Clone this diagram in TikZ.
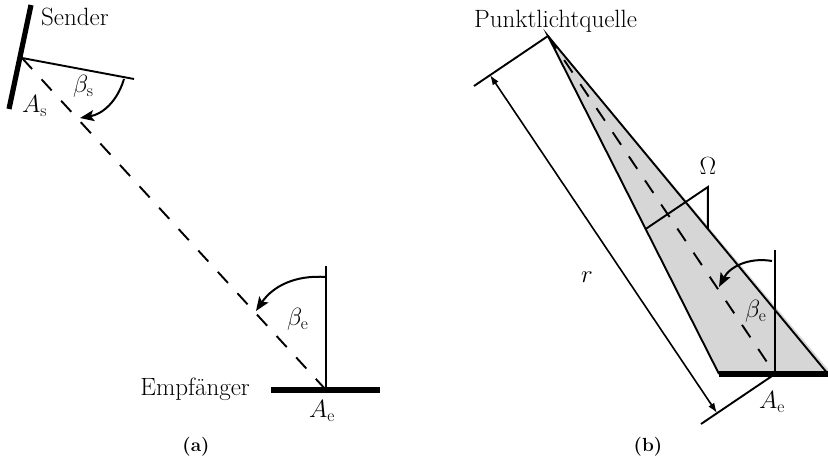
\documentclass[tikz,border=0pt]{standalone}
\usetikzlibrary{arrows.meta,calc}
\definecolor{conegray}{RGB}{214,214,214}
\begin{document}
\begin{tikzpicture}[x=1pt,y=-1pt,
  thinline/.style={line width=1.9pt},
  thickbar/.style={line width=5.2pt},
  axisline/.style={line width=1.9pt, dash pattern=on 15pt off 14pt},
  angarrow/.style={line width=2pt, -{Stealth[length=14pt,width=11pt,inset=3pt]}},
  dimarrow/.style={line width=1.6pt, {Latex[length=10pt,width=7pt]}-{Latex[length=10pt,width=7pt]}},
  lbl/.style={font=\fontsize{25}{30}\selectfont, inner sep=0pt},
  capt/.style={font=\fontsize{19}{23}\selectfont\bfseries, inner sep=0pt}]
\useasboundingbox (0,0) rectangle (828,462);

% ---------- panel (a) ----------
\coordinate (s1) at (9,109);
\coordinate (s2) at (31,5);
\coordinate (As) at (22,58);
\coordinate (n1) at (134,79);
\coordinate (Ae) at (326,390);
\coordinate (e1) at (271,390);
\coordinate (e2) at (380,390);
\coordinate (v1) at (326,266);
\coordinate (aS1) at (124,79);
\coordinate (aS2) at (80,118);
\coordinate (aE1) at (326,277);
\coordinate (aE2) at (256,311);

\draw[axisline] (As) -- (Ae);
\draw[thinline] (As) -- (n1);
\draw[thinline] (Ae) -- (v1);
\draw[thickbar] (s1) -- (s2);
\draw[thickbar] (e1) -- (e2);
\draw[angarrow] (aS1) to[bend left=32] (aS2);
\draw[angarrow] (aE1) to[bend right=30] (aE2);

\node[lbl, anchor=base west] (sender) at (41,26) {Sender};
\node[lbl, anchor=base west] (lAs) at (22,113) {$A_{\mathrm{s}}$};
\node[lbl, anchor=base west] (lbs) at (73,93) {$\beta_{\mathrm{s}}$};
\node[lbl, anchor=base east] (empf) at (250,396) {Empfänger};
\node[lbl, anchor=base west] (lAe) at (309,418) {$A_{\mathrm{e}}$};
\node[lbl, anchor=base west] (lbe) at (287,326) {$\beta_{\mathrm{e}}$};
\node[capt, anchor=base] (capa) at (196,452) {(a)};

% ---------- panel (b) ----------
\coordinate (S) at (548,36);
\coordinate (L) at (719,374);
\coordinate (R) at (832,374);
\coordinate (B) at (775,374);
\coordinate (T1) at (474,86);
\coordinate (T2) at (701,424);
\coordinate (D1) at (490,75);
\coordinate (D2) at (717,413);
\coordinate (vb) at (775,250);
\coordinate (bA1) at (772,261);
\coordinate (bA2) at (719,287);
\coordinate (P1) at ($(S)!0.571!(L)$);
\coordinate (P3) at ($(S)!0.571!(828,374)$);
\coordinate (P2) at (P3 |- {(0,187)});

\fill[conegray] (S) -- (L) -- (R) -- cycle;
\draw[axisline] (S) -- (B);
\draw[thinline] (L) -- (S) -- (828,374);
\draw[thinline] (P1) -- (P2) -- (P3);
\draw[thinline] (B) -- (vb);
\draw[thinline] (T1) -- (S);
\draw[thinline] (T2) -- (B);
\draw[thickbar] (L) -- (R);
\draw[angarrow] (bA1) to[bend right=36] (bA2);
\draw[dimarrow] (D1) -- (D2);

\node[lbl, anchor=base west] (plq) at (474,28) {Punktlichtquelle};
\node[lbl, anchor=base] (om) at (708,175) {$\Omega$};
\node[lbl, anchor=base west] (lr) at (581,283) {$r$};
\node[lbl, anchor=base west] (lbeb) at (745,318) {$\beta_{\mathrm{e}}$};
\node[lbl, anchor=base west] (lAeb) at (759,409) {$A_{\mathrm{e}}$};
\node[capt, anchor=base] (capb) at (648,452) {(b)};
\end{tikzpicture}
\end{document}
